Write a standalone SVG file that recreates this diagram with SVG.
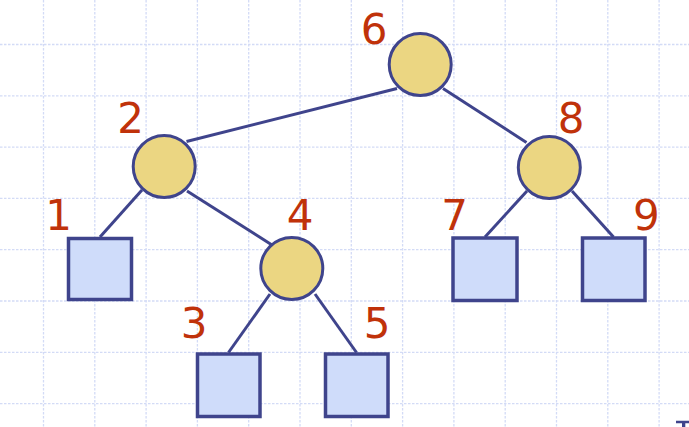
<svg xmlns="http://www.w3.org/2000/svg" width="689" height="427" viewBox="0 0 689 427">
<style>
.grid line{stroke:#d3dbf6;stroke-width:1.3;stroke-dasharray:2.5,1.5}
.edge{stroke:#3f448c;stroke-width:3;fill:none}
.int{fill:#ebd682;stroke:#3f448c;stroke-width:3}
.ext{fill:#cfdcfa;stroke:#3f448c;stroke-width:3.5}
.lbl{font-family:"DejaVu Sans","Verdana",sans-serif;font-size:42px;fill:#c0320a;text-anchor:middle}
</style>
<rect width="689" height="427" fill="#ffffff"/>
<g class="grid">
<line x1="43.5" y1="0" x2="43.5" y2="427"/>
<line x1="94.8" y1="0" x2="94.8" y2="427"/>
<line x1="146.1" y1="0" x2="146.1" y2="427"/>
<line x1="197.4" y1="0" x2="197.4" y2="427"/>
<line x1="248.7" y1="0" x2="248.7" y2="427"/>
<line x1="300" y1="0" x2="300" y2="427"/>
<line x1="351.3" y1="0" x2="351.3" y2="427"/>
<line x1="402.6" y1="0" x2="402.6" y2="427"/>
<line x1="453.9" y1="0" x2="453.9" y2="427"/>
<line x1="505.2" y1="0" x2="505.2" y2="427"/>
<line x1="556.5" y1="0" x2="556.5" y2="427"/>
<line x1="607.8" y1="0" x2="607.8" y2="427"/>
<line x1="659.1" y1="0" x2="659.1" y2="427"/>
<line x1="0" y1="44.5" x2="689" y2="44.5"/>
<line x1="0" y1="95.8" x2="689" y2="95.8"/>
<line x1="0" y1="147.1" x2="689" y2="147.1"/>
<line x1="0" y1="198.4" x2="689" y2="198.4"/>
<line x1="0" y1="249.7" x2="689" y2="249.7"/>
<line x1="0" y1="301" x2="689" y2="301"/>
<line x1="0" y1="352.3" x2="689" y2="352.3"/>
<line x1="0" y1="403.6" x2="689" y2="403.6"/>
</g>
<g id="connectors">
<line class="edge" x1="397" y1="88.5" x2="186.5" y2="141.5"/>
<line class="edge" x1="443" y1="88.5" x2="526.5" y2="142.5"/>
<line class="edge" x1="142" y1="190" x2="100" y2="237"/>
<line class="edge" x1="187" y1="191" x2="272" y2="245"/>
<line class="edge" x1="270" y1="294" x2="228.5" y2="352.5"/>
<line class="edge" x1="315" y1="294" x2="356.5" y2="352.5"/>
<line class="edge" x1="527" y1="191" x2="485" y2="237"/>
<line class="edge" x1="572" y1="191" x2="613.5" y2="237"/>
</g>
<g id="node6"><circle class="int" cx="420.2" cy="64.5" r="31"/><text class="lbl" x="374.2" y="43.5">6</text></g>
<g id="node2"><circle class="int" cx="164.2" cy="166.5" r="31"/><text class="lbl" x="130.5" y="133">2</text></g>
<g id="node8"><circle class="int" cx="549.3" cy="167.5" r="31"/><text class="lbl" x="571" y="132.5">8</text></g>
<g id="node4"><circle class="int" cx="291.8" cy="268.5" r="31"/><text class="lbl" x="300" y="229.5">4</text></g>
<g id="node1"><rect class="ext" x="68.5" y="238.5" width="63" height="61"/><text class="lbl" x="58.5" y="230">1</text></g>
<g id="node3"><rect class="ext" x="197.5" y="354" width="62.5" height="62.5"/><text class="lbl" x="194" y="337.7">3</text></g>
<g id="node5"><rect class="ext" x="325.5" y="354" width="62.5" height="62.5"/><text class="lbl" x="377" y="337.7">5</text></g>
<g id="node7"><rect class="ext" x="453" y="238" width="64" height="62.5"/><text class="lbl" x="454.5" y="229.5">7</text></g>
<g id="node9"><rect class="ext" x="582.5" y="238" width="62.5" height="62.5"/><text class="lbl" x="646.3" y="229.5">9</text></g>
<path d="M676 420.7H689V423.3H685.3V427H682V423.3H676Z" fill="#3f448c"/>
</svg>
